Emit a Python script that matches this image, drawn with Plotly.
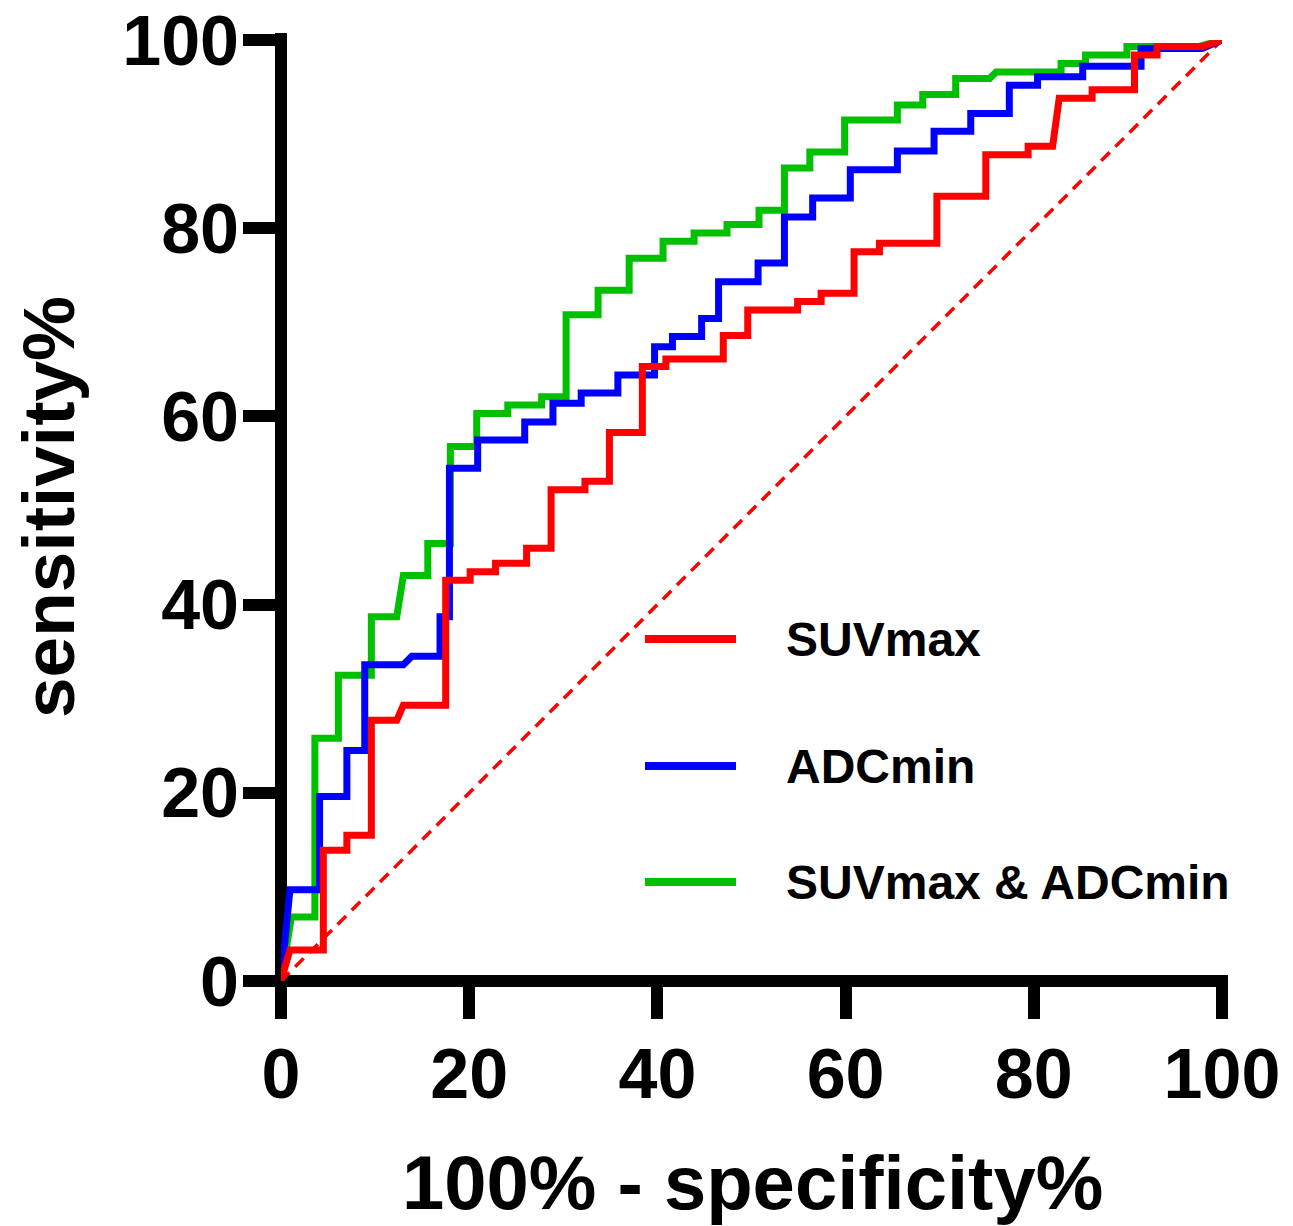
import plotly.graph_objects as go

# ---- data ----
x_ticks = [0, 20, 40, 60, 80, 100]
y_ticks = [0, 20, 40, 60, 80, 100]

series_names = ["SUVmax", "ADCmin", "SUVmax & ADCmin"]

suv_fpr = [0, 0.95, 4.5, 4.5, 7.0, 7.0, 9.6, 9.6, 12.3, 13.0, 17.5, 17.5, 20.1, 20.1, 22.8, 22.8,
           26.1, 26.1, 28.7, 28.7, 32.3, 32.3, 34.9, 34.9, 38.4, 38.4, 40.9, 40.9, 47.0, 47.0,
           49.6, 49.6, 54.9, 54.9, 57.4, 57.4, 60.9, 60.9, 63.6, 63.6, 69.7, 69.7, 74.9, 74.9,
           79.4, 79.4, 82.0, 82.7, 86.2, 86.2, 90.7, 90.7, 93.1, 93.1, 97.9, 100]
suv_tpr = [0, 3.3, 3.3, 13.9, 13.9, 15.5, 15.5, 27.7, 27.7, 29.3, 29.3, 42.6, 42.6, 43.5, 43.5, 44.4,
           44.4, 46.0, 46.0, 52.2, 52.2, 53.1, 53.1, 58.3, 58.3, 65.3, 65.3, 66.1, 66.1, 68.6,
           68.6, 71.3, 71.3, 72.2, 72.2, 73.1, 73.1, 77.5, 77.5, 78.4, 78.4, 83.4, 83.4, 87.8,
           87.8, 88.7, 88.7, 93.8, 93.8, 94.7, 94.7, 98.4, 98.4, 99.3, 99.3, 100]

adc_fpr = [0, 0.95, 4.1, 4.1, 7.0, 7.0, 8.9, 8.9, 13.0, 13.9, 16.9, 16.9, 17.9, 17.9, 20.9, 20.9,
           25.9, 25.9, 28.9, 28.9, 31.9, 31.9, 35.8, 35.8, 39.7, 39.7, 41.6, 41.6, 44.7, 44.7,
           46.5, 46.5, 50.7, 50.7, 53.5, 53.5, 56.5, 56.5, 60.5, 60.5, 65.5, 65.5, 69.4, 69.4,
           73.3, 73.3, 77.4, 77.4, 80.4, 80.4, 85.2, 85.2, 91.4, 91.4, 97.9, 100]
adc_tpr = [0, 9.7, 9.7, 19.6, 19.6, 24.5, 24.5, 33.6, 33.6, 34.5, 34.5, 38.7, 38.7, 54.5, 54.5, 57.5,
           57.5, 59.4, 59.4, 61.4, 61.4, 62.5, 62.5, 64.4, 64.4, 67.4, 67.4, 68.5, 68.5, 70.4,
           70.4, 74.3, 74.3, 76.3, 76.3, 81.2, 81.2, 83.2, 83.2, 86.2, 86.2, 88.2, 88.2, 90.3,
           90.3, 92.2, 92.2, 95.2, 95.2, 96.1, 96.1, 97.2, 97.2, 99.1, 99.1, 100]

comb_fpr = [0, 1.1, 3.6, 3.6, 6.1, 6.1, 9.6, 9.6, 12.3, 13.0, 15.6, 15.6, 18.0, 18.0, 20.8, 20.8,
            24.1, 24.1, 27.7, 27.7, 30.3, 30.3, 33.7, 33.7, 37.0, 37.0, 40.6, 40.6, 43.9, 43.9,
            47.4, 47.4, 50.8, 50.8, 53.5, 53.5, 56.2, 56.2, 59.9, 59.9, 65.5, 65.5, 68.2, 68.2,
            71.7, 71.7, 75.3, 76.0, 82.9, 82.9, 85.5, 85.5, 89.9, 89.9, 97.5, 100]
comb_tpr = [0, 6.8, 6.8, 25.8, 25.8, 32.5, 32.5, 38.7, 38.7, 43.1, 43.1, 46.5, 46.5, 56.8, 56.8, 60.3,
            60.3, 61.2, 61.2, 62.1, 62.1, 70.8, 70.8, 73.4, 73.4, 76.8, 76.8, 78.6, 78.6, 79.5,
            79.5, 80.4, 80.4, 81.9, 81.9, 86.4, 86.4, 88.1, 88.1, 91.5, 91.5, 93.1, 93.1, 94.2,
            94.2, 95.9, 95.9, 96.6, 96.6, 97.5, 97.5, 98.4, 98.4, 99.3, 99.3, 100]

ref_x = [0, 100]
ref_y = [0, 100]

colors = {"SUVmax": "#FF0000", "ADCmin": "#0000FF", "SUVmax & ADCmin": "#00C000"}

# ---- figure ----
# page body has an 8px default margin, so the figure is drawn 8px smaller/offset
OFF = 8
W, H = 1293 - OFF, 1226 - OFF
ML, MT = 281 - OFF, 40 - OFF
PW = PH = 941
MR = W - ML - PW
MB = H - MT - PH


def px_y(py):  # reference pixel row -> paper y
    return (40 + PH - py) / PH


def px_x(px):  # reference pixel column -> paper x
    return (px - 281) / PW


fig = go.Figure()
fig.add_trace(go.Scatter(x=ref_x, y=ref_y, mode="lines", showlegend=False, hoverinfo="skip",
                         line=dict(color="#FF0000", width=3.5, dash="12px,8px")))
for name, xs, ys in [("SUVmax & ADCmin", comb_fpr, comb_tpr),
                     ("ADCmin", adc_fpr, adc_tpr),
                     ("SUVmax", suv_fpr, suv_tpr)]:
    fig.add_trace(go.Scatter(x=xs, y=ys, mode="lines", name=name, showlegend=False,
                             line=dict(color=colors[name], width=7)))

tickfont = dict(family="Liberation Sans, Arial, sans-serif", size=70, color="black", weight="bold")
fig.update_xaxes(range=[0, 100], tickvals=x_ticks, ticktext=[str(v) for v in x_ticks],
                 ticks="outside", ticklen=37, tickwidth=12, tickcolor="black",
                 showgrid=False, zeroline=False, showline=False, tickfont=tickfont,
                 ticklabelstandoff=-5, ticklabeloverflow="allow",
                 automargin=False, fixedrange=True)
fig.update_yaxes(range=[0, 100], tickvals=y_ticks, ticktext=[str(v) for v in y_ticks],
                 ticks="outside", ticklen=37, tickwidth=12, tickcolor="black",
                 showgrid=False, zeroline=False, showline=False, tickfont=tickfont,
                 ticklabelstandoff=-10, ticklabeloverflow="allow",
                 automargin=False, fixedrange=True)

shapes = []
# axis lines
shapes.append(dict(type="line", xref="paper", yref="paper", x0=0, x1=0,
                   y0=-6 / PH, y1=1 + 7 / PH, line=dict(color="black", width=12), layer="below"))
shapes.append(dict(type="line", xref="paper", yref="paper", y0=0, y1=0,
                   x0=-6 / PW, x1=1 + 6 / PW, line=dict(color="black", width=12), layer="below"))

# manual legend
legend_rows_px = [639, 766, 882]
annotations = []
for name, py in zip(series_names, legend_rows_px):
    yp = px_y(py)
    shapes.append(dict(type="line", xref="paper", yref="paper",
                       x0=px_x(645), x1=px_x(736), y0=yp, y1=yp,
                       line=dict(color=colors[name], width=8)))
    annotations.append(dict(xref="paper", yref="paper", x=px_x(784), y=yp,
                            xanchor="left", yanchor="middle", showarrow=False, text=name,
                            font=dict(family="Liberation Sans, Arial, sans-serif", size=48,
                                      color="black", weight="bold")))

titlefont = dict(family="Liberation Sans, Arial, sans-serif", size=76, color="black", weight="bold")
annotations.append(dict(xref="paper", yref="paper", x=px_x(752), y=px_y(1182),
                        xanchor="center", yanchor="middle", showarrow=False,
                        text="100% - specificity%", font=titlefont))
annotations.append(dict(xref="paper", yref="paper", x=px_x(49), y=px_y(507),
                        xanchor="center", yanchor="middle", showarrow=False, textangle=-90,
                        text="sensitivity%",
                        font=dict(family="Liberation Sans, Arial, sans-serif", size=73,
                                  color="black", weight="bold")))

fig.update_layout(width=W, height=H, margin=dict(l=ML, r=MR, t=MT, b=MB, pad=0, autoexpand=False),
                  paper_bgcolor="white", plot_bgcolor="rgba(0,0,0,0)",
                  shapes=shapes, annotations=annotations, showlegend=False)

fig.write_html("out.html")
